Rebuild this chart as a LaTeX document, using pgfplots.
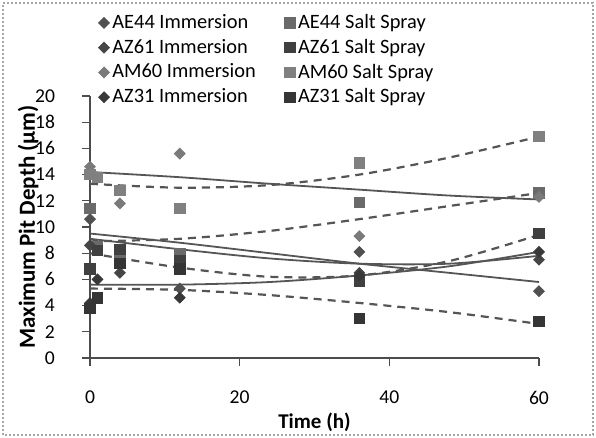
\documentclass[border=0pt]{standalone}
\usepackage{pgfplots}
\pgfplotsset{compat=1.18}
\usepackage{fontspec}
\setmainfont{Carlito}

\definecolor{aeI}{HTML}{505050}
\definecolor{azsI}{HTML}{454545}
\definecolor{amI}{HTML}{7A7A7A}
\definecolor{aztI}{HTML}{383838}
\definecolor{aeS}{HTML}{6A6A6A}
\definecolor{azsS}{HTML}{404040}
\definecolor{amS}{HTML}{808080}
\definecolor{aztS}{HTML}{353535}
\definecolor{trend}{HTML}{555555}

\pgfplotsset{
  imm/.style={only marks, mark=square*, mark size=1.9pt, mark options={rotate=45}},
  ss/.style={only marks, mark=square*, mark size=2.6pt},
  solidtrend/.style={trend, line width=0.9pt, smooth, no marks, forget plot},
  dashtrend/.style={trend, line width=1.1pt, dash pattern=on 4pt off 3pt, smooth, no marks, forget plot},
}

\begin{document}
\begin{tikzpicture}
\useasboundingbox (0pt,0pt) rectangle (298pt,219pt);
\draw[gray!70, line width=1pt, densely dotted] (1.5pt,1.5pt) rectangle (296.5pt,217.5pt);
\begin{axis}[
    at={(45pt,40pt)}, anchor=south west,
    scale only axis,
    width=224.5pt, height=131pt,
    xmin=0, xmax=60, ymin=0, ymax=20,
    xtick={0,20,40,60}, ytick={0,2,...,20},
    axis x line*=bottom, axis y line*=left,
    axis line style={gray!60!black, line width=0.6pt},
    tick style={gray!60!black, line width=0.6pt},
    tick align=outside, major tick length=4pt,
    /pgf/number format/assume math mode=true,
    tick label style={font=\fontsize{9.8}{11}\selectfont},
    yticklabel style={xshift=-10pt},
    xticklabel style={yshift=-9pt},
    xlabel={\textbf{Time (h)}},
    ylabel={\textbf{Maximum Pit Depth (μm)}},
    xlabel style={font=\fontsize{10.5}{12}\selectfont, at={(axis description cs:0.5,-0.244)}, anchor=center},
    ylabel style={font=\fontsize{11.5}{13}\selectfont, at={(axis description cs:-0.138,0.5)}, anchor=center},
    clip=false,
    legend columns=2,
    legend cell align=left,
    legend style={draw=none, fill=none, at={(axis description cs:0.005,1.34)}, anchor=north west,
      font=\fontsize{10.2}{12}\selectfont, row sep=0.8pt,
      /tikz/every even column/.append style={column sep=13pt},
      nodes={inner sep=1.5pt}},
]
% trend lines (immersion: solid, salt spray: dashed)
\addplot[solidtrend] coordinates {(0,14.2) (12,13.8) (24,13.3) (36,12.85) (48,12.4) (60,12.1)};
\addplot[solidtrend] coordinates {(0,9.5) (12,8.8) (24,8.0) (36,7.2) (48,6.5) (60,5.8)};
\addplot[solidtrend] coordinates {(0,9.1) (12,8.3) (24,7.6) (36,7.2) (48,7.2) (60,7.8)};
\addplot[solidtrend] coordinates {(0,5.6) (12,5.6) (24,5.8) (36,6.3) (48,7.0) (60,8.1)};
\addplot[dashtrend] coordinates {(0,13.3) (12,13.0) (24,13.2) (36,14.0) (48,15.3) (60,16.9)};
\addplot[dashtrend] coordinates {(0,8.9) (12,9.1) (24,9.7) (36,10.6) (48,11.6) (60,12.6)};
\addplot[dashtrend] coordinates {(0,8.0) (12,6.9) (24,6.2) (36,6.3) (48,7.4) (60,9.4)};
\addplot[dashtrend] coordinates {(0,5.3) (12,5.2) (24,4.8) (36,4.2) (48,3.5) (60,2.6)};
% data, in legend order (immersion / salt spray per alloy)
\addplot[imm, color=aeI] coordinates {(0,10.6) (4,8.0) (12,5.3) (36,8.1) (60,5.1)};
\addplot[ss, color=aeS] coordinates {(0,11.4) (1,8.5) (4,7.7) (12,8.0) (36,11.9) (60,12.6)};
\addplot[imm, color=azsI] coordinates {(0,8.6) (4,6.5) (12,7.2) (36,6.5) (60,7.5)};
\addplot[ss, color=azsS] coordinates {(0,6.8) (1,8.2) (4,8.3) (12,7.4) (36,5.9) (60,9.5)};
\addplot[imm, color=amI] coordinates {(0,14.6) (4,11.8) (12,15.6) (36,9.3) (60,12.3)};
\addplot[ss, color=amS] coordinates {(0,14.0) (1,13.8) (4,12.8) (12,11.4) (36,14.9) (60,16.9)};
\addplot[imm, color=aztI] coordinates {(0,4.2) (1,6.0) (12,4.6) (36,6.3) (60,8.1)};
\addplot[ss, color=aztS] coordinates {(0,3.8) (1,4.6) (4,7.2) (12,6.8) (36,3.0) (60,2.8)};
\legend{AE44 Immersion, AE44 Salt Spray, AZ61 Immersion, AZ61 Salt Spray,
        AM60 Immersion, AM60 Salt Spray, AZ31 Immersion, AZ31 Salt Spray}
\end{axis}
\end{tikzpicture}
\end{document}
